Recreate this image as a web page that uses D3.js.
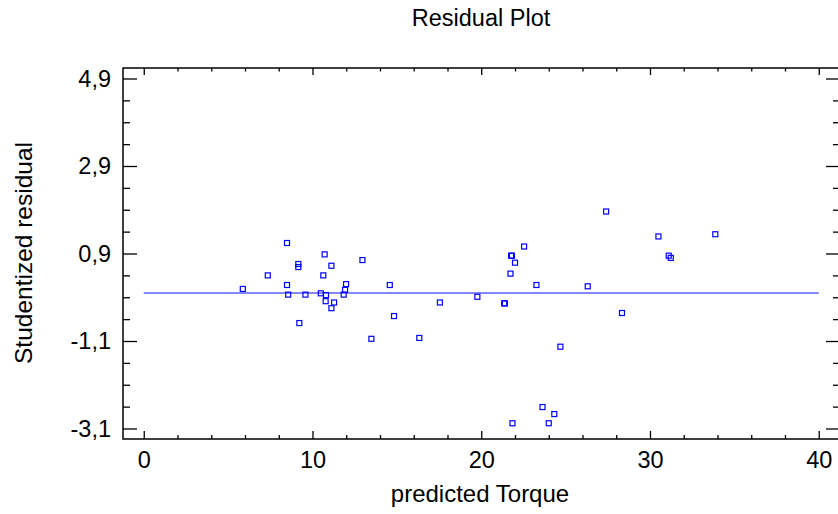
<!DOCTYPE html>
<html>
<head>
<meta charset="utf-8">
<script src="https://cdn.jsdelivr.net/npm/d3@7"></script>
<style>
  body { margin: 0; background: #fff; }
  svg { display: block; font-family: "Liberation Sans", Arial, sans-serif; }
</style>
</head>
<body>
<script>
// residuals
const predicted = [8.49, 10.72, 12.96, 9.16, 9.16, 11.12, 7.35, 10.64, 8.49, 11.99,
    11.93, 5.87, 14.58, 8.56, 9.58, 10.49, 10.80, 11.85, 10.78, 11.28,
    11.12, 9.22, 14.83, 13.49, 30.50, 33.87, 22.54, 21.77, 21.82, 22.00,
    31.11, 31.23, 21.73, 23.27, 26.31, 19.77, 21.40, 21.36, 28.34, 24.69,
    23.63, 24.33, 21.85, 24.00, 27.40, 17.55, 16.33];
const residual = [1.14, 0.88, 0.75, 0.66, 0.59, 0.62, 0.40, 0.40, 0.18, 0.20,
    0.07, 0.09, 0.18, -0.04, -0.04, -0.01, -0.05, -0.04, -0.19, -0.22,
    -0.35, -0.69, -0.53, -1.05, 1.29, 1.34, 1.06, 0.85, 0.85, 0.69,
    0.85, 0.80, 0.44, 0.18, 0.15, -0.09, -0.24, -0.24, -0.46, -1.23,
    -2.61, -2.77, -2.98, -2.98, 1.86, -0.22, -1.03];

const xMajor = [0, 10, 20, 30, 40];
const xMinor = [2, 4, 6, 8, 12, 14, 16, 18, 22, 24, 26, 28, 32, 34, 36, 38];
const yMajor = [4.9, 2.9, 0.9, -1.1, -3.1];
const yMinor = [4.4, 3.9, 3.4, 2.4, 1.9, 1.4, 0.4, -0.1, -0.6, -1.6, -2.1, -2.6];
const zeroLine = [0, 40];

const W = 838, H = 514;
const pLeft = 123, pRight = 840, pTop = 68, pBottom = 439;

const svg = d3.select("body").append("svg")
    .attr("width", W)
    .attr("height", H);

const x = d3.scaleLinear([-1.23, 41.26], [pLeft, pRight]);
const y = d3.scaleLinear([-3.34, 5.14], [pBottom, pTop]);
const fmt = d => String(d).replace(".", ",");

// frame
svg.append("rect")
    .attr("x", pLeft).attr("y", pTop)
    .attr("width", pRight - pLeft).attr("height", pBottom - pTop)
    .attr("fill", "none").attr("stroke", "#000").attr("stroke-width", 1.5);

function styleAxis(g) {
    g.select(".domain").remove();
    g.selectAll("line").attr("stroke", "#000").attr("stroke-width", 1.3);
    g.selectAll("text").attr("font-size", 23.5).attr("fill", "#000")
        .attr("font-family", "Liberation Sans, Arial, sans-serif");
}

// bottom
svg.append("g").attr("transform", `translate(0,${pBottom})`)
    .call(d3.axisBottom(x).tickValues(xMajor).tickSize(-8).tickPadding(12).tickFormat(fmt))
    .call(styleAxis);
svg.append("g").attr("transform", `translate(0,${pBottom})`)
    .call(d3.axisBottom(x).tickValues(xMinor).tickSize(-4).tickFormat(""))
    .call(styleAxis);
// top
svg.append("g").attr("transform", `translate(0,${pTop})`)
    .call(d3.axisTop(x).tickValues(xMajor).tickSize(-7).tickFormat(""))
    .call(styleAxis);
svg.append("g").attr("transform", `translate(0,${pTop})`)
    .call(d3.axisTop(x).tickValues(xMinor).tickSize(-3.5).tickFormat(""))
    .call(styleAxis);
// left
svg.append("g").attr("transform", `translate(${pLeft},0)`)
    .call(d3.axisLeft(y).tickValues(yMajor).tickSize(-14).tickPadding(12).tickFormat(fmt))
    .call(styleAxis);
svg.append("g").attr("transform", `translate(${pLeft},0)`)
    .call(d3.axisLeft(y).tickValues(yMinor).tickSize(-7).tickFormat(""))
    .call(styleAxis);
// right
svg.append("g").attr("transform", `translate(${pRight},0)`)
    .call(d3.axisRight(y).tickValues(yMajor).tickSize(-14).tickFormat(""))
    .call(styleAxis);
svg.append("g").attr("transform", `translate(${pRight},0)`)
    .call(d3.axisRight(y).tickValues(yMinor).tickSize(-7).tickFormat(""))
    .call(styleAxis);

// zero line
svg.append("line")
    .attr("x1", x(zeroLine[0])).attr("x2", x(zeroLine[1]))
    .attr("y1", y(0)).attr("y2", y(0))
    .attr("stroke", "#5c5cff").attr("stroke-width", 1.5);

// points
svg.append("g")
    .selectAll("rect")
    .data(predicted.map((p, i) => ({ p: p, r: residual[i] })))
    .enter()
    .append("rect")
    .attr("x", d => x(d.p) - 2.5)
    .attr("y", d => y(d.r) - 2.5)
    .attr("width", 5).attr("height", 5)
    .attr("fill", "none")
    .attr("stroke", "#0000ff")
    .attr("stroke-width", 1.2);

// titles
svg.append("text")
    .attr("x", 481).attr("y", 26)
    .attr("text-anchor", "middle")
    .attr("font-size", 23.5)
    .text("Residual Plot");

svg.append("text")
    .attr("x", 480).attr("y", 502)
    .attr("text-anchor", "middle")
    .attr("font-size", 24)
    .text("predicted Torque");

svg.append("text")
    .attr("transform", "translate(32,253) rotate(-90)")
    .attr("text-anchor", "middle")
    .attr("font-size", 24.5)
    .text("Studentized residual");
</script>
</body>
</html>
